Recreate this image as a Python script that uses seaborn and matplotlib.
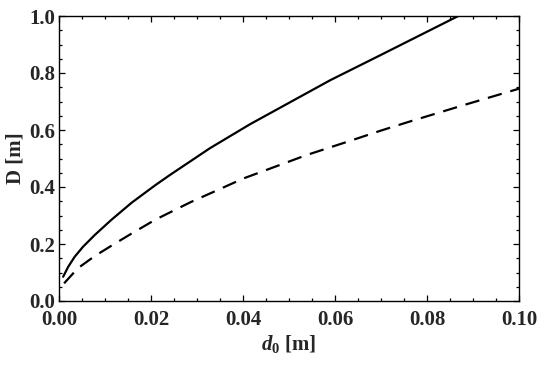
import numpy as np
import pandas as pd
import matplotlib
matplotlib.use("Agg")
import matplotlib.pyplot as plt
import seaborn as sns
from matplotlib.ticker import MultipleLocator, FormatStrFormatter

# data
d_solid = [0.0009, 0.0020, 0.0034, 0.0052, 0.0078, 0.0114, 0.0158, 0.0209, 0.0241,
           0.0328, 0.0415, 0.0538, 0.0590, 0.0698, 0.0868]
D_solid = [0.085, 0.120, 0.155, 0.190, 0.232, 0.285, 0.345, 0.406, 0.442,
           0.536, 0.620, 0.729, 0.775, 0.862, 1.000]
d_dash = [0.0011, 0.0041, 0.0078, 0.0114, 0.0154, 0.0209, 0.0285, 0.0401, 0.0538,
          0.0633, 0.0698, 0.0763, 0.0877, 0.1000]
D_dash = [0.062, 0.115, 0.158, 0.194, 0.233, 0.285, 0.346, 0.430, 0.512,
          0.562, 0.597, 0.630, 0.686, 0.745]

x_ticks = [0.00, 0.02, 0.04, 0.06, 0.08, 0.10]
y_ticks = [0.0, 0.2, 0.4, 0.6, 0.8, 1.0]

sns.set_theme(style="ticks")
plt.rcParams['font.family'] = ['Liberation Serif', 'DejaVu Serif']
plt.rcParams['font.weight'] = 'bold'
plt.rcParams['mathtext.fontset'] = 'custom'
plt.rcParams['mathtext.rm'] = 'Liberation Serif:bold'
plt.rcParams['mathtext.it'] = 'Liberation Serif:bold:italic'
plt.rcParams['mathtext.bf'] = 'Liberation Serif:bold'

df1 = pd.DataFrame({"d": d_solid, "D": D_solid})
df2 = pd.DataFrame({"d": d_dash, "D": D_dash})

fig = plt.figure(figsize=(5.5, 3.65), dpi=100)
ax = fig.add_axes([59/550, 64/365, 460/550, 285/365])

sns.lineplot(data=df1, x="d", y="D", ax=ax, color="black", linewidth=1.6)
sns.lineplot(data=df2, x="d", y="D", ax=ax, color="black", linewidth=1.6)
ax.lines[-1].set_dashes([6.5, 4])
for ln in ax.lines:
    ln.set_solid_joinstyle('round')
    ln.set_dash_joinstyle('round')

ax.set_xlim(0, 0.1)
ax.set_ylim(0, 1.0)
ax.set_xticks(x_ticks)
ax.set_yticks(y_ticks)
ax.xaxis.set_major_formatter(FormatStrFormatter('%.2f'))
ax.yaxis.set_major_formatter(FormatStrFormatter('%.1f'))
ax.xaxis.set_minor_locator(MultipleLocator(0.005))
ax.yaxis.set_minor_locator(MultipleLocator(0.05))
ax.tick_params(which='both', direction='in', top=True, right=True,
               color='black', width=0.9)
ax.tick_params(which='major', length=4)
ax.tick_params(which='minor', length=2.2)
ax.tick_params(axis='x', which='major', pad=6.5, labelsize=15)
ax.tick_params(axis='y', which='major', pad=2.5, labelsize=15)
for lab in ax.get_xticklabels() + ax.get_yticklabels():
    lab.set_fontweight('bold')
for s in ax.spines.values():
    s.set_visible(True)
    s.set_linewidth(1.0)
    s.set_color('black')

ax.set_xlabel(r'$d_0$ [m]', fontsize=15, fontweight='bold', labelpad=2)
ax.set_ylabel('D [m]', fontsize=15, fontweight='bold', labelpad=3)

fig.savefig("out.png", dpi=100)
